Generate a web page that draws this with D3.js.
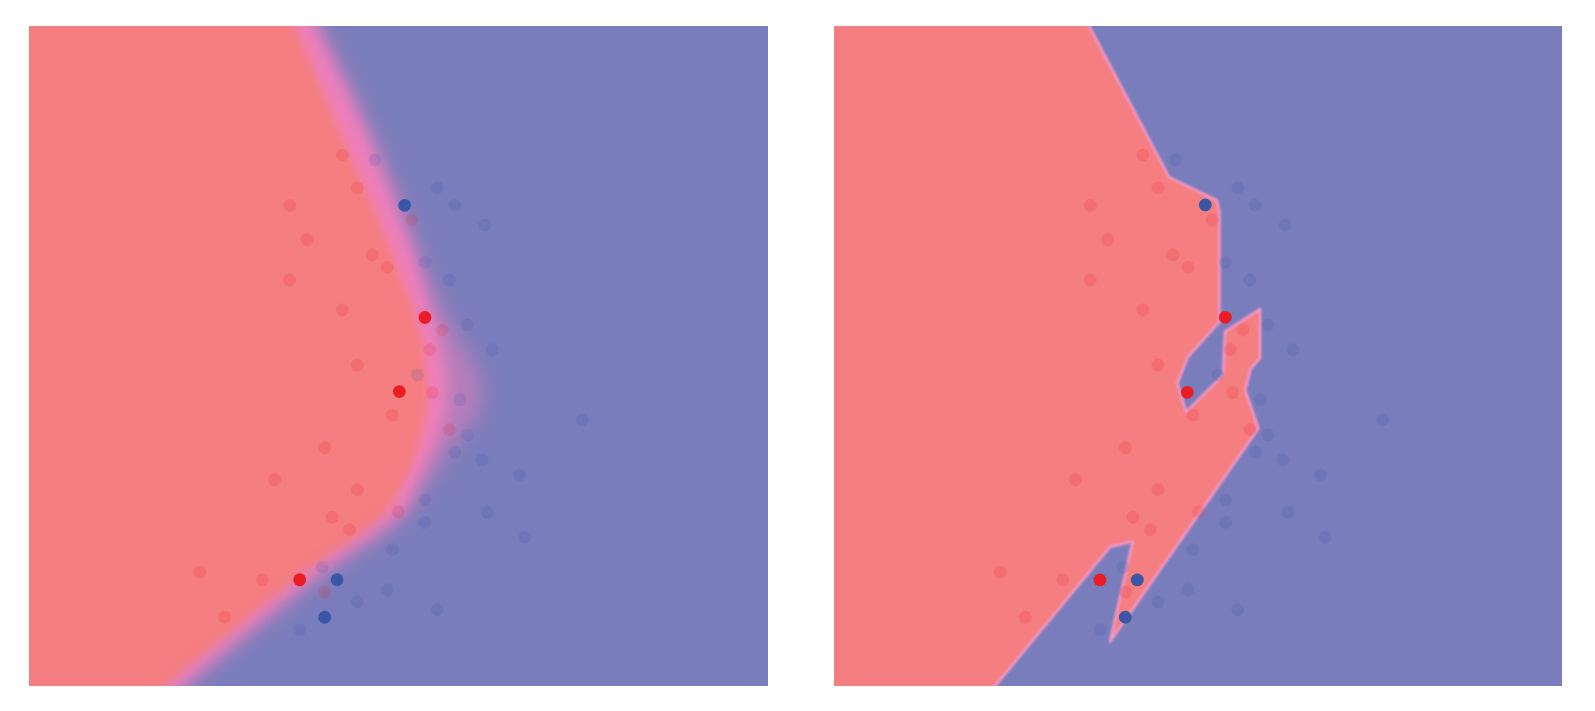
<!DOCTYPE html>
<html><head><meta charset="utf-8">
<script src="https://cdn.jsdelivr.net/npm/d3@7"></script>
<style>html,body{margin:0;padding:0;background:#fff}svg{display:block}</style>
</head><body>
<svg id="chart" width="1595" height="711"></svg>
<script>
// ---------- data ----------
const xDomainLeft = [-3, 3];
const xDomainRight = [-2.964, 2.946];
const yDomain = [-3, 3];

// faded training points, class 0 (red) and class 1 (blue)
const redPtsX = [-0.456,-0.334,-0.883,-0.743,-0.213,-0.091,-0.883,-0.456,-0.334,0.108,0.356,0.253,0.274,-0.050,0.412,-0.599,-1.005,-0.334,-0.002,-0.537,-0.396,-1.614,-1.106,-0.599,-1.411];
const redPtsY = [1.827,1.530,1.370,1.057,0.918,0.806,0.691,0.418,-0.082,1.236,0.236,0.057,-0.334,-0.536,-0.670,-0.834,-1.125,-1.215,-1.415,-1.466,-1.579,-1.966,-2.034,-2.145,-2.375];
const bluePtsX = [-0.193,0.313,0.456,0.700,0.215,0.412,0.559,0.762,0.153,0.497,1.492,0.559,0.456,0.680,0.984,0.215,0.719,0.215,1.025,-0.050,-0.619,-0.091,-0.334,0.313,-0.802];
const bluePtsY = [1.782,1.530,1.370,1.191,0.852,0.691,0.282,0.057,-0.173,-0.397,-0.579,-0.718,-0.875,-0.943,-1.082,-1.306,-1.421,-1.512,-1.648,-1.761,-1.921,-2.125,-2.236,-2.306,-2.488];

// highlighted points (0 = red, 1 = blue)
const hlLeftX = [0.050, 0.215, 0.007, -0.802, -0.499, -0.599];
const hlLeftY = [1.370, 0.350, -0.323, -2.034, -2.034, -2.375];
const hlLeftC = [1, 0, 0, 0, 1, 1];
const hlRightX = [0.050, 0.213, -0.096, -0.805, -0.502, -0.599];
const hlRightY = [1.373, 0.352, -0.330, -2.036, -2.036, -2.375];
const hlRightC = [1, 0, 0, 0, 1, 1];

// smooth decision boundary (left panel): centre of the pink band
const smoothBX = [-0.886,-0.759,-0.394,-0.045,0.093,0.175,0.256,0.296,0.313,0.304,0.240,0.134,-0.028,-0.296,-0.621,-0.986,-1.352,-1.677,-1.807,-2.131];
const smoothBY = [3.327,3.0,2.055,1.145,0.736,0.509,0.236,-0.036,-0.264,-0.518,-0.827,-1.127,-1.418,-1.673,-1.918,-2.236,-2.573,-2.873,-3.0,-3.309];
// where the blue class starts to show (left panel)
const lavenderEdgeX = [-0.75,-0.62,-0.22,0.09,0.21,0.25,0.325,0.37,0.395,0.38,0.295,0.19,0.09,-0.18,-0.505,-0.87,-1.235,-1.56,-1.69,-2.01];
// where the blue class takes over (left panel)
const blueEdgeX = [-0.75,-0.62,-0.22,0.11,0.25,0.33,0.46,0.60,0.68,0.65,0.45,0.26,0.09,-0.18,-0.505,-0.87,-1.235,-1.56,-1.69,-2.01];
const edgeY = [3.33,3.0,2.055,1.145,0.736,0.509,0.236,-0.036,-0.264,-0.518,-0.827,-1.127,-1.418,-1.673,-1.918,-2.236,-2.573,-2.873,-3.0,-3.31];

// piecewise-linear decision region of class 0 (right panel)
const knnRegionX = [-3.1,-0.941,-0.244,0.143,0.164,0.164,-0.093,-0.177,-0.106,0.196,0.210,0.494,0.494,0.419,0.373,0.481,-0.723,-0.539,-0.723,-1.731,-3.1];
const knnRegionY = [3.1,3.1,1.625,1.415,1.312,0.312,-0.012,-0.248,-0.509,-0.173,0.221,0.425,-0.021,-0.112,-0.309,-0.657,-2.597,-1.688,-1.734,-3.1,-3.1];

// ---------- style ----------
const C = {
  regionRed: "#f47e80",
  regionBlue: "#7a7dbb",
  pink: "#f07fba",
  edge: "#f39ac7",
  ptRed: "#ec1c24",
  ptBlue: "#3a57a7"
};
const R = 6.4;

const svg = d3.select("#chart");
const defs = svg.append("defs");
const yS = d3.scaleLinear().domain(yDomain).range([686, 26]);
const xL = d3.scaleLinear().domain(xDomainLeft).range([29, 768]);
const xR = d3.scaleLinear().domain(xDomainRight).range([834, 1562]);

function blur(id, s) {
  defs.append("filter").attr("id", id)
    .attr("filterUnits", "userSpaceOnUse")
    .attr("x", -200).attr("y", -200).attr("width", 2000).attr("height", 1200)
    .append("feGaussianBlur").attr("stdDeviation", s);
}
blur("bBlue", 10);
blur("bLav", 8);
blur("bPink", 5);
blur("bEdge", 0.8);

function clip(id, xs) {
  defs.append("clipPath").attr("id", id).append("rect")
    .attr("x", xs.range()[0]).attr("y", yS.range()[1])
    .attr("width", xs.range()[1] - xs.range()[0])
    .attr("height", yS.range()[0] - yS.range()[1]);
}
clip("cL", xL); clip("cR", xR);

// ---------- left panel ----------
const gL = svg.append("g").attr("clip-path", "url(#cL)");
gL.append("rect").attr("x", xL.range()[0]).attr("y", 26)
  .attr("width", xL.range()[1] - xL.range()[0]).attr("height", 660)
  .attr("fill", C.regionRed);

const curve = d3.line().curve(d3.curveCatmullRom.alpha(0.5));
const farX = xL(xDomainLeft[1] + 1);
function region(xs, ys) {
  const p = curve(xs.map((v, i) => [xL(v), yS(ys[i])]));
  return p + "L" + farX + "," + yS(-3.4) + "L" + farX + "," + yS(3.4) + "Z";
}
gL.append("g").attr("filter", "url(#bPink)")
  .append("path").attr("d", region(smoothBX, smoothBY))
  .attr("fill", C.pink).attr("transform", "translate(-10,0)");
gL.append("g").attr("filter", "url(#bLav)")
  .append("path").attr("d", region(lavenderEdgeX, edgeY))
  .attr("fill", C.regionBlue).attr("fill-opacity", 0.5);
gL.append("g").attr("filter", "url(#bBlue)")
  .append("path").attr("d", region(blueEdgeX, edgeY))
  .attr("fill", C.regionBlue);

// ---------- right panel ----------
const gR = svg.append("g").attr("clip-path", "url(#cR)");
const gRb = gR.append("g").attr("filter", "url(#bEdge)");
gRb.append("rect").attr("x", xR.range()[0] - 10).attr("y", 16)
  .attr("width", xR.range()[1] - xR.range()[0] + 20).attr("height", 680)
  .attr("fill", C.regionBlue);
gRb.append("path")
  .attr("d", d3.line()(knnRegionX.map((v, i) => [xR(v), yS(knnRegionY[i])])) + "Z")
  .attr("fill", C.regionRed).attr("stroke", C.edge).attr("stroke-width", 2.4)
  .attr("stroke-linejoin", "round");

// ---------- points ----------
function drawPoints(g, xs, hx, hy, hc) {
  const faded = redPtsX.map((v, i) => ({x: v, y: redPtsY[i], c: 0}))
    .concat(bluePtsX.map((v, i) => ({x: v, y: bluePtsY[i], c: 1})));
  g.selectAll("circle.f").data(faded).join("circle").attr("class", "f")
    .attr("cx", d => xs(d.x)).attr("cy", d => yS(d.y)).attr("r", R)
    .attr("fill", d => d.c ? C.ptBlue : C.ptRed).attr("fill-opacity", 0.16);
  const hl = hx.map((v, i) => ({x: v, y: hy[i], c: hc[i]}));
  g.selectAll("circle.h").data(hl).join("circle").attr("class", "h")
    .attr("cx", d => xs(d.x)).attr("cy", d => yS(d.y)).attr("r", R)
    .attr("fill", d => d.c ? C.ptBlue : C.ptRed);
}
drawPoints(gL.append("g"), xL, hlLeftX, hlLeftY, hlLeftC);
drawPoints(gR.append("g"), xR, hlRightX, hlRightY, hlRightC);
</script>
</body></html>
